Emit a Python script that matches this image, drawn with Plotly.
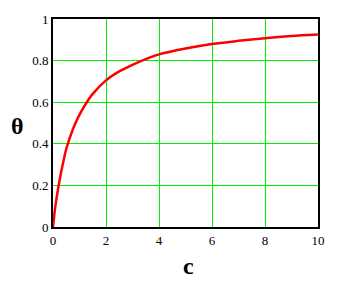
import plotly.graph_objects as go

c_vals = [0, 0.05, 0.1, 0.2, 0.3, 0.4, 0.5, 0.75, 1, 1.25, 1.5, 2, 2.5, 3, 3.5, 4, 5, 6, 7, 8, 9, 10]
theta_vals = [0, 0.06, 0.11, 0.19, 0.26, 0.32, 0.375, 0.47, 0.54, 0.595, 0.64, 0.705, 0.748, 0.78, 0.807,
              0.83, 0.858, 0.88, 0.895, 0.908, 0.918, 0.925]
x_ticks = [0, 2, 4, 6, 8, 10]
y_ticks = [0, 0.2, 0.4, 0.6, 0.8, 1]
y_tick_labels = ["0", "0.2", "0.4", "0.6", "0.8", "1"]

L, R, T, B = 53, 14, 12, 54
W, H = 337, 281
pw = W - L - R
ph = H - T - B

fig = go.Figure()
fig.add_trace(go.Scatter(x=c_vals, y=theta_vals, mode="lines",
                         line=dict(color="#ff0000", width=2.5, shape="spline", smoothing=0.8),
                         hoverinfo="skip"))

font = dict(family="Liberation Serif, Times New Roman, serif", size=13, color="black")
fig.update_layout(
    width=W, height=H,
    margin=dict(l=L, r=R, t=T, b=B),
    paper_bgcolor="white", plot_bgcolor="white",
    showlegend=False,
    font=font,
    xaxis=dict(range=[0, 10], tickvals=x_ticks, ticktext=[str(v) for v in x_ticks],
               showgrid=True, gridcolor="#00ee00", gridwidth=1, zeroline=False,
               showline=True, linecolor="black", linewidth=2, mirror=True, ticks="",
               tickfont=font, fixedrange=True),
    yaxis=dict(range=[0, 1], tickvals=y_ticks, ticktext=y_tick_labels,
               showgrid=True, gridcolor="#00ee00", gridwidth=1, zeroline=False,
               showline=True, linecolor="black", linewidth=2, mirror=True, ticks="",
               tickfont=font, fixedrange=True),
    annotations=[
        dict(text="<b>θ</b>", xref="paper", yref="paper",
             x=(17 - L) / pw, y=(H - B - 123) / ph, xanchor="center", yanchor="middle",
             showarrow=False, font=dict(family="Liberation Serif, serif", size=24, color="black")),
        dict(text="<b>c</b>", xref="paper", yref="paper",
             x=(191 - L) / pw, y=(H - B - 267) / ph, xanchor="center", yanchor="middle",
             showarrow=False, font=dict(family="Liberation Serif, serif", size=24, color="black")),
    ],
)
fig.write_html("out.html", config={"displayModeBar": False})
